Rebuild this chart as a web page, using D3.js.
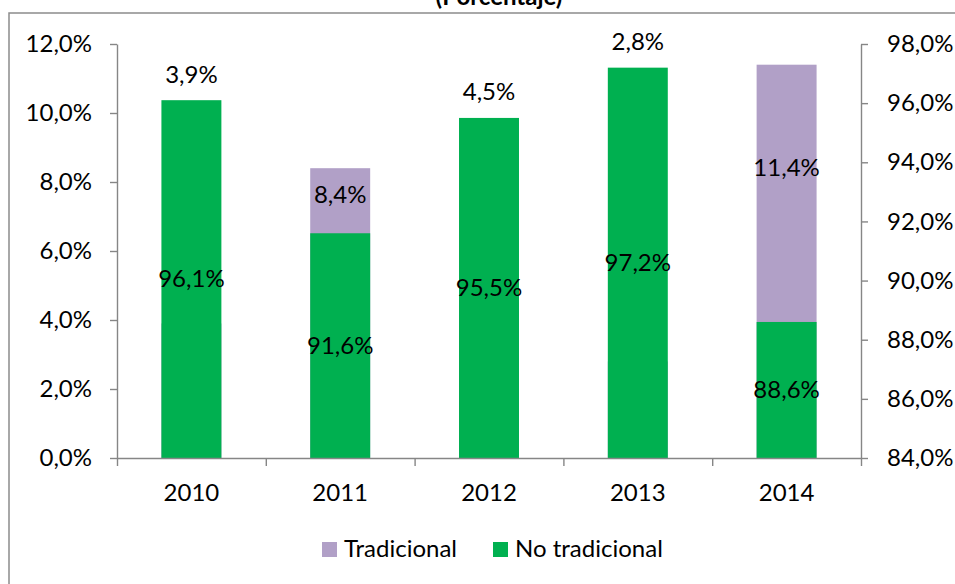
<!DOCTYPE html>
<html>
<head>
<meta charset="utf-8">
<script src="https://cdn.jsdelivr.net/npm/d3@7"></script>
<style>
  html, body { margin: 0; padding: 0; background: #fff; }
  svg { display: block; font-family: Lato, "Open Sans", "Liberation Sans", sans-serif; }
</style>
</head>
<body>
<svg id="chart" width="955" height="584"></svg>
<script>
// Years shown on the category axis
const years = ["2010", "2011", "2012", "2013", "2014"];
// Share of "Tradicional" (left axis, %)
const tradicional = [3.9, 8.4, 4.5, 2.8, 11.4];
// Share of "No tradicional" (right axis, %)
const noTradicional = [96.1, 91.6, 95.5, 97.2, 88.6];
// Axis tick values
const leftTicks = [0, 2, 4, 6, 8, 10, 12];
const rightTicks = [84, 86, 88, 90, 92, 94, 96, 98];
const seriesNames = ["Tradicional", "No tradicional"];
const title = "(Porcentaje)";

const colors = { trad: "#B1A0C7", noTrad: "#00B050", axis: "#868686", frame: "#8c8c8c", text: "#000" };
const fontSize = 24;

const svg = d3.select("#chart");
const plot = { left: 117, right: 861, top: 44, bottom: 458 };

const es = d3.formatLocale({ decimal: ",", thousands: ".", grouping: [3], currency: ["", "€"] });
const pct = v => es.format(".1f")(v) + "%";

const x = d3.scaleBand().domain(years).range([plot.left, plot.right])
  .paddingInner(0.597).paddingOuter(0.2985);
const yL = d3.scaleLinear().domain([0, 12]).range([plot.bottom, plot.top]);
const yR = d3.scaleLinear().domain([84, 98]).range([plot.bottom, plot.top]);
const xb = d3.scaleLinear().domain([0, years.length]).range([plot.left, plot.right]);

// Outer chart frame
svg.append("rect")
  .attr("x", 9).attr("y", 13).attr("width", 960).attr("height", 600)
  .attr("fill", "none").attr("stroke", colors.frame).attr("stroke-width", 1.5);

// Title (partly above the frame)
svg.append("text")
  .attr("x", 499).attr("y", 5)
  .attr("text-anchor", "middle")
  .attr("font-weight", "bold").attr("font-size", fontSize)
  .attr("fill", colors.text)
  .text(title);

const rows = years.map((yr, i) => ({ yr, t: tradicional[i], n: noTradicional[i] }));

// Tradicional bars (left axis), drawn behind
svg.append("g").selectAll("rect").data(rows).join("rect")
  .attr("x", d => x(d.yr)).attr("width", x.bandwidth())
  .attr("y", d => yL(d.t)).attr("height", d => plot.bottom - yL(d.t))
  .attr("fill", colors.trad);

// No tradicional bars (right axis), drawn in front
svg.append("g").selectAll("rect").data(rows).join("rect")
  .attr("x", d => x(d.yr)).attr("width", x.bandwidth())
  .attr("y", d => yR(d.n)).attr("height", d => plot.bottom - yR(d.n))
  .attr("fill", colors.noTrad);

// Axes
function styleAxis(g) {
  g.select(".domain").attr("stroke", colors.axis).attr("stroke-width", 1.4);
  g.selectAll(".tick line").attr("stroke", colors.axis).attr("stroke-width", 1.4);
  g.selectAll(".tick text").attr("fill", colors.text).attr("font-size", fontSize)
    .attr("font-family", 'Lato, "Open Sans", sans-serif');
}

svg.append("g").attr("transform", `translate(${plot.left},0)`)
  .call(d3.axisLeft(yL).tickValues(leftTicks).tickSize(7).tickPadding(18).tickFormat(pct).tickSizeOuter(0))
  .call(styleAxis);

svg.append("g").attr("transform", `translate(${plot.right},0)`)
  .call(d3.axisRight(yR).tickValues(rightTicks).tickSize(7).tickPadding(19).tickFormat(pct).tickSizeOuter(0))
  .call(styleAxis);

// Category axis: ticks at band boundaries, labels at band centres
svg.append("g").attr("transform", `translate(0,${plot.bottom})`)
  .call(d3.axisBottom(xb).tickValues(d3.range(years.length + 1)).tickSize(8).tickFormat("").tickSizeOuter(0))
  .call(styleAxis);

svg.append("g").selectAll("text").data(rows).join("text")
  .attr("x", d => x(d.yr) + x.bandwidth() / 2)
  .attr("y", 493).attr("dy", "0.35em")
  .attr("text-anchor", "middle").attr("font-size", fontSize).attr("fill", colors.text)
  .text(d => d.yr);

// Value labels
const labels = svg.append("g").attr("font-size", fontSize).attr("fill", colors.text).attr("text-anchor", "middle");

labels.selectAll("text.nt").data(rows).join("text").attr("class", "nt")
  .attr("x", d => x(d.yr) + x.bandwidth() / 2)
  .attr("y", d => (yR(d.n) + plot.bottom) / 2).attr("dy", "0.35em")
  .text(d => pct(d.n));

labels.selectAll("text.tr").data(rows).join("text").attr("class", "tr")
  .attr("x", d => x(d.yr) + x.bandwidth() / 2)
  .attr("y", d => {
    const top = yL(d.t), greenTop = yR(d.n);
    return top < greenTop ? top + 0.4 * (greenTop - top) : greenTop - 26;
  })
  .attr("dy", "0.35em")
  .text(d => pct(d.t));

// Legend
const legend = svg.append("g").attr("font-size", fontSize).attr("fill", colors.text);
const legendItems = [
  { name: seriesNames[0], color: colors.trad, x: 322 },
  { name: seriesNames[1], color: colors.noTrad, x: 493 }
];
legendItems.forEach(it => {
  legend.append("rect").attr("x", it.x).attr("y", 542).attr("width", 15).attr("height", 15).attr("fill", it.color);
  legend.append("text").attr("x", it.x + 22).attr("y", 549).attr("dy", "0.35em").text(it.name);
});
</script>
</body>
</html>
